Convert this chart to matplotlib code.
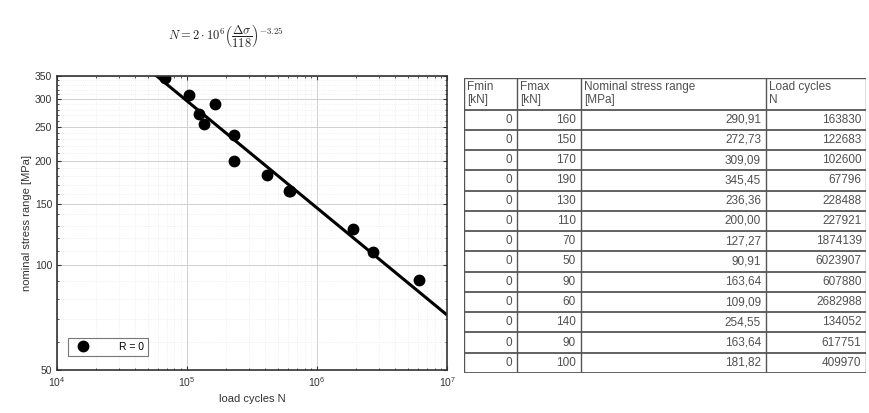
import matplotlib
matplotlib.use("Agg")
import matplotlib.pyplot as plt
from matplotlib.ticker import FixedLocator, NullFormatter, LogLocator
import numpy as np

plt.rcParams['font.family'] = ['Liberation Sans', 'DejaVu Sans']

# test results (R = 0)
fmin = [0, 0, 0, 0, 0, 0, 0, 0, 0, 0, 0, 0, 0]
fmax = [160, 150, 170, 190, 130, 110, 70, 50, 90, 60, 140, 90, 100]
stress = [290.91, 272.73, 309.09, 345.45, 236.36, 200.00, 127.27,
          90.91, 163.64, 109.09, 254.55, 163.64, 181.82]
cycles = [163830, 122683, 102600, 67796, 228488, 227921, 1874139,
          6023907, 607880, 2682988, 134052, 617751, 409970]

# S-N curve N = Nc * (ds / dsc)^-m
n_ref = 2e6
ds_ref = 118
m = 3.25

col_labels = ["Fmin\n[kN]", "Fmax\n[kN]", "Nominal stress range\n[MPa]", "Load cycles\nN"]

fig = plt.figure(figsize=(8.69, 4.13), dpi=100)
ax = fig.add_axes([0.0656, 0.104, 0.449, 0.712])

ds_line = np.logspace(np.log10(50), np.log10(400), 200)
n_line = n_ref * (ds_line / ds_ref) ** (-m)
ax.plot(n_line, ds_line, color='black', lw=2.2)
ax.plot(cycles, stress, 'o', color='black', ms=7.5, label='R = 0')

ax.set_xscale('log')
ax.set_yscale('log')
ax.set_xlim(1e4, 1e7)
ax.set_ylim(50, 350)
ax.yaxis.set_major_locator(FixedLocator([50, 100, 150, 200, 250, 300, 350]))
ax.yaxis.set_minor_locator(FixedLocator(list(range(60, 350, 10))))
ax.yaxis.set_major_formatter(plt.FuncFormatter(lambda v, p: "%d" % v))
ax.yaxis.set_minor_formatter(NullFormatter())
ax.xaxis.set_major_locator(LogLocator(base=10))
ax.xaxis.set_minor_locator(LogLocator(base=10, subs=np.arange(2, 10)))
ax.tick_params(which='both', direction='in', top=True, right=True,
               labelsize=7.5, colors='#333333', length=3)
ax.tick_params(which='minor', length=1.5)
ax.grid(True, which='major', color='#d0d0d0', lw=0.7)
ax.grid(True, which='minor', color='#e6e6e6', lw=0.5, ls=':')
for s in ax.spines.values():
    s.set_linewidth(1.2)
    s.set_color('#333333')
ax.set_ylabel("nominal stress range [MPa]", fontsize=8, color='#333333', labelpad=2)
ax.set_xlabel("load cycles N", fontsize=8, color='#333333', labelpad=4)
leg = ax.legend(loc='lower left', fontsize=7.5, frameon=True, fancybox=False,
                edgecolor='#555555', handletextpad=2.5, borderpad=0.4,
                markerscale=1.0, bbox_to_anchor=(0.015, 0.03))
leg.get_frame().set_linewidth(0.8)

fig.text(0.26, 0.915,
         r'$N = 2\cdot10^6\left(\dfrac{\Delta\sigma}{118}\right)^{-3.25}$',
         fontsize=9, ha='center', va='center', color='#222222',
         math_fontfamily='cm')

# table with test data
tab = fig.add_axes([0.534, 0.097, 0.463, 0.715])
tab.set_xlim(0, 1)
tab.set_ylim(0, 1)
tab.axis('off')

col_edges = [0, 0.131, 0.29, 0.75, 1.0]
n_rows = len(stress)
head_h = 0.108
row_h = (1 - head_h) / n_rows
line_c = '#555555'
txt_c = '#505050'

for x in col_edges:
    tab.plot([x, x], [0, 1], color=line_c, lw=1.0)
tab.plot([0, 1], [1, 1], color=line_c, lw=1.0)
for i in range(n_rows + 1):
    y = 1 - head_h - i * row_h
    tab.plot([0, 1], [y, y], color=line_c, lw=1.3)

for j, lab in enumerate(col_labels):
    tab.text(col_edges[j] + 0.008, 1 - head_h / 2, lab, fontsize=8.5,
             ha='left', va='center', color=txt_c, linespacing=1.1)

for i in range(n_rows):
    yc = 1 - head_h - (i + 0.5) * row_h
    vals = [str(fmin[i]), str(fmax[i]), ("%.2f" % stress[i]).replace('.', ','), str(cycles[i])]
    for j, v in enumerate(vals):
        tab.text(col_edges[j + 1] - 0.012, yc, v, fontsize=8.5,
                 ha='right', va='center', color=txt_c)

fig.savefig("out.png", dpi=100)
